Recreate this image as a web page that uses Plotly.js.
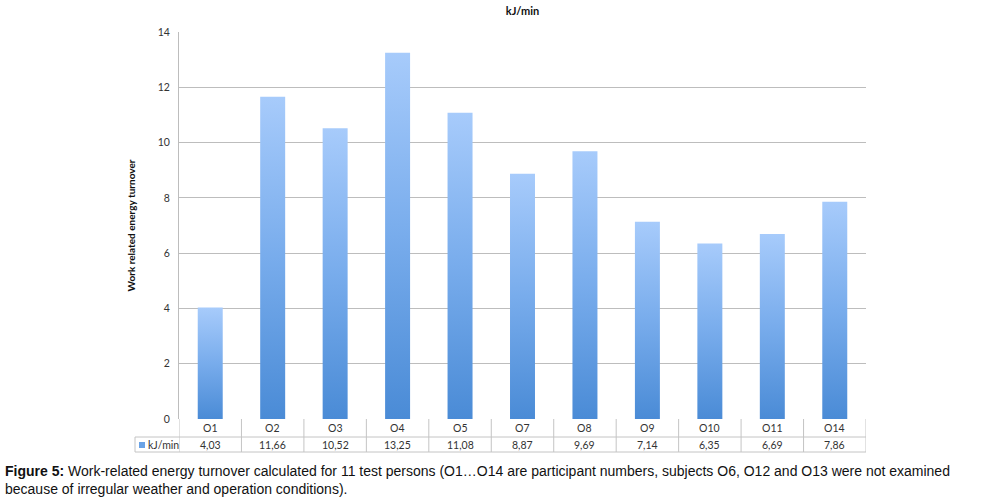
<!DOCTYPE html>
<html>
<head>
<meta charset="utf-8">
<script src="https://cdn.plot.ly/plotly-3.0.1.min.js"></script>
<style>
html,body{margin:0;padding:0;background:#fff;}
#chart{width:991px;height:499px;}
</style>
</head>
<body>
<div id="chart"></div>
<script>
const categories = ["O1","O2","O3","O4","O5","O7","O8","O9","O10","O11","O14"];
const values = [4.03, 11.66, 10.52, 13.25, 11.08, 8.87, 9.69, 7.14, 6.35, 6.69, 7.86];
const valueLabels = ["4,03","11,66","10,52","13,25","11,08","8,87","9,69","7,14","6,35","6,69","7,86"];
const seriesName = "kJ/min";
const yTicks = [0,2,4,6,8,10,12,14];

const chartFont = "Lato, 'Open Sans', sans-serif";
const plotTop = 32, plotBottom = 419, plotH = plotBottom - plotTop;
function py(pix){ return (plotBottom - pix) / plotH; }
function px(pix){ return (pix - 179) / (866 - 179); }

const trace = {
  type: "bar",
  x: categories.map((c,i)=>i),
  y: values,
  width: 0.4,
  marker: {color: "#78acea", line: {width: 0}},
  hoverinfo: "skip"
};

const annotations = [];
const shapes = [];
const row1Bottom = py(437), row2Bottom = py(452);

categories.forEach((c,i)=>{
  annotations.push({xref:"x", yref:"paper", x:i, y:(py(419)+row1Bottom)/2, text:c, showarrow:false,
    font:{family:chartFont,size:10.5,color:"#333"}, xanchor:"center", yanchor:"middle"});
  annotations.push({xref:"x", yref:"paper", x:i, y:(row1Bottom+row2Bottom)/2, text:valueLabels[i], showarrow:false,
    font:{family:chartFont,size:10.5,color:"#333"}, xanchor:"center", yanchor:"middle"});
});
for(let i=0;i<=categories.length;i++){
  shapes.push({type:"line", xref:"x", yref:"paper", x0:i-0.5, x1:i-0.5, y0:py(419), y1:row2Bottom,
    line:{color:"#c4c4c4", width:1}});
}
shapes.push({type:"line", xref:"paper", yref:"paper", x0:px(135), x1:1, y0:row1Bottom, y1:row1Bottom, line:{color:"#c4c4c4",width:1}});
shapes.push({type:"line", xref:"paper", yref:"paper", x0:px(135), x1:1, y0:row2Bottom, y1:row2Bottom, line:{color:"#c4c4c4",width:1}});
shapes.push({type:"line", xref:"paper", yref:"paper", x0:px(135), x1:px(135), y0:row1Bottom, y1:row2Bottom, line:{color:"#c4c4c4",width:1}});
shapes.push({type:"rect", xref:"paper", yref:"paper", x0:px(139), x1:px(145), y0:py(448), y1:py(442),
  fillcolor:"#6aa3e6", line:{width:0}});
annotations.push({xref:"paper", yref:"paper", x:px(146), y:(row1Bottom+row2Bottom)/2, text:seriesName,
  showarrow:false, xanchor:"left", yanchor:"middle", font:{family:chartFont,size:10.5,color:"#333"}});

annotations.push({xref:"paper", yref:"paper", x:px(3), y:py(461), xanchor:"left", yanchor:"top", align:"left",
  showarrow:false,
  text:"<b>Figure 5:</b> Work-related energy turnover calculated for 11 test persons (O1…O14 are participant numbers, subjects O6, O12 and O13 were not examined<br>because of irregular weather and operation conditions).",
  font:{family:"'Liberation Sans Narrow', 'Arial Narrow', 'Liberation Sans', Arial, sans-serif", size:14, color:"#111"}});

const layout = {
  width: 991, height: 499,
  margin: {l:179, r:125, t:plotTop, b:499-plotBottom, pad:0},
  paper_bgcolor:"#fff", plot_bgcolor:"#fff",
  title: {text:"<b>kJ/min</b>", x:0.5, xref:"paper", y:0.978, yanchor:"middle", font:{family:chartFont,size:11,color:"#111"}},
  showlegend:false,
  xaxis: {type:"linear", range:[-0.5, categories.length-0.5], showticklabels:false, showgrid:false, zeroline:false,
    showline:false, ticks:"", fixedrange:true},
  yaxis: {range:[0,14], tickvals:yTicks, ticktext:yTicks.map(String), showgrid:true, gridcolor:"#bdbdbd", gridwidth:1,
    zeroline:false, showline:true, linecolor:"#bdbdbd", linewidth:1, ticks:"", ticklabelstandoff:6,
    tickfont:{family:chartFont,size:10.5,color:"#333"},
    title:{text:"<b>Work related energy turnover</b>", standoff:20, font:{family:chartFont,size:10,color:"#111"}}},
  annotations: annotations,
  shapes: shapes,
  bargap: 0.6
};

Plotly.newPlot("chart", [trace], layout, {staticPlot:true, displayModeBar:false}).then(gd=>{
  const svg = gd.querySelector("svg.main-svg");
  const ns = "http://www.w3.org/2000/svg";
  let defs = svg.querySelector("defs");
  if(!defs){ defs = document.createElementNS(ns,"defs"); svg.insertBefore(defs, svg.firstChild); }
  const grad = document.createElementNS(ns,"linearGradient");
  grad.setAttribute("id","barGrad");
  grad.setAttribute("x1","0"); grad.setAttribute("y1","0"); grad.setAttribute("x2","0"); grad.setAttribute("y2","1");
  [["0","#a7cbfb"],["0.5","#78acec"],["1","#4a8bd6"]].forEach(([o,c])=>{
    const s = document.createElementNS(ns,"stop");
    s.setAttribute("offset",o); s.setAttribute("stop-color",c); grad.appendChild(s);
  });
  defs.appendChild(grad);
  gd.querySelectorAll(".bars .point path").forEach(p=>{ p.style.fill = "url(#barGrad)"; });
});
</script>
</body>
</html>
